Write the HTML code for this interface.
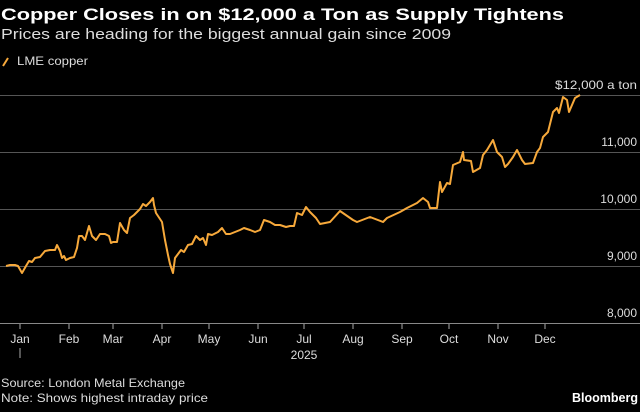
<!DOCTYPE html>
<html><head><meta charset="utf-8"><style>
body{margin:0;background:#000;width:640px;height:407px;overflow:hidden;font-family:"Liberation Sans",sans-serif}
</style></head><body>
<svg width="640" height="407" xmlns="http://www.w3.org/2000/svg" font-family="Liberation Sans, sans-serif">
<rect width="640" height="407" fill="#000"/>
<text x="1" y="20" fill="#fff" font-size="17" font-weight="bold" textLength="563" lengthAdjust="spacingAndGlyphs">Copper Closes in on $12,000 a Ton as Supply Tightens</text>
<text x="1" y="39" fill="#ddd" font-size="15" textLength="450" lengthAdjust="spacingAndGlyphs">Prices are heading for the biggest annual gain since 2009</text>
<line x1="3" y1="66" x2="8" y2="58" stroke="#f7a93b" stroke-width="2"/>
<text x="17" y="65" fill="#ddd" font-size="12" textLength="71" lengthAdjust="spacingAndGlyphs">LME copper</text>
<g stroke="#555" stroke-width="1">
<line x1="0" y1="95.5" x2="640" y2="95.5"/>
<line x1="0" y1="152.5" x2="640" y2="152.5"/>
<line x1="0" y1="209.5" x2="640" y2="209.5"/>
<line x1="0" y1="266.5" x2="640" y2="266.5"/>
</g>
<line x1="0" y1="323.5" x2="640" y2="323.5" stroke="#888"/>
<g fill="#ddd" font-size="12" text-anchor="end">
<text x="637" y="89" textLength="82" lengthAdjust="spacingAndGlyphs">$12,000 a ton</text>
<text x="637" y="146">11,000</text>
<text x="637" y="203">10,000</text>
<text x="637" y="260">9,000</text>
<text x="637" y="317">8,000</text>
</g>
<g stroke="#aaa">
<line x1="20" y1="324" x2="20" y2="329"/><line x1="69" y1="324" x2="69" y2="329"/><line x1="113" y1="324" x2="113" y2="329"/><line x1="162" y1="324" x2="162" y2="329"/><line x1="209" y1="324" x2="209" y2="329"/><line x1="258" y1="324" x2="258" y2="329"/><line x1="304" y1="324" x2="304" y2="329"/><line x1="353" y1="324" x2="353" y2="329"/><line x1="402" y1="324" x2="402" y2="329"/><line x1="449" y1="324" x2="449" y2="329"/><line x1="498" y1="324" x2="498" y2="329"/><line x1="545" y1="324" x2="545" y2="329"/>
<line x1="20" y1="348" x2="20" y2="358"/>
</g>
<g fill="#ddd" font-size="12" text-anchor="middle">
<text x="20" y="343">Jan</text><text x="69" y="343">Feb</text><text x="113" y="343">Mar</text><text x="162" y="343">Apr</text><text x="209" y="343">May</text><text x="258" y="343">Jun</text><text x="304" y="343">Jul</text><text x="353" y="343">Aug</text><text x="402" y="343">Sep</text><text x="449" y="343">Oct</text><text x="498" y="343">Nov</text><text x="545" y="343">Dec</text>
<text x="304" y="359">2025</text>
</g>
<polyline fill="none" stroke="#f7a93b" stroke-width="2" stroke-linejoin="round" points="6,266 10,265 15,265 18,266 22,273 26,266 29,261 32,262 35,258 40,257 45,251 50,250 55,250 57,245 60,251 62,258 64,256 66,260 70,258 74,257 77,248 79,236 82,236 85,240 89,226 92,236 96,240 100,234 105,234 109,236 111,243 113,242 117,242 120,223 124,230 127,233 130,218 134,215 140,209 143,204 146,206 150,202 153,198 154,205 156,213 162,222 165,240 168,255 170,264 173,273 175,258 178,254 181,250 184,252 188,245 192,244 196,236 200,240 203,238 206,245 208,234 212,235 218,232 222,228 226,234 230,234 235,232 240,230 244,228 250,230 255,232 260,230 264,220 270,222 275,225 280,225 286,227 290,226 294,226 297,213 302,215 306,207 310,212 316,218 320,224 330,222 340,211 353,220 357,222 370,217 383,222 387,218 400,212 407,208 417,203 423,198 428,202 430,208 437,208 440,182 442,192 447,183 450,184 453,165 460,162 463,152 464,160 471,161 473,172 480,168 483,155 487,150 493,140 497,152 502,157 505,167 508,164 513,157 517,150 522,160 525,164 533,163 537,152 540,148 543,137 548,132 553,112 557,108 559,113 563,97 567,100 569,112 572,105 575,98 580,95"/>
<text x="1" y="387" fill="#ddd" font-size="12" textLength="184" lengthAdjust="spacingAndGlyphs">Source: London Metal Exchange</text>
<text x="1" y="402" fill="#ddd" font-size="12" textLength="207" lengthAdjust="spacingAndGlyphs">Note: Shows highest intraday price</text>
<text x="638" y="402" fill="#fff" font-size="12.5" font-weight="bold" text-anchor="end">Bloomberg</text>
</svg>
</body></html>
